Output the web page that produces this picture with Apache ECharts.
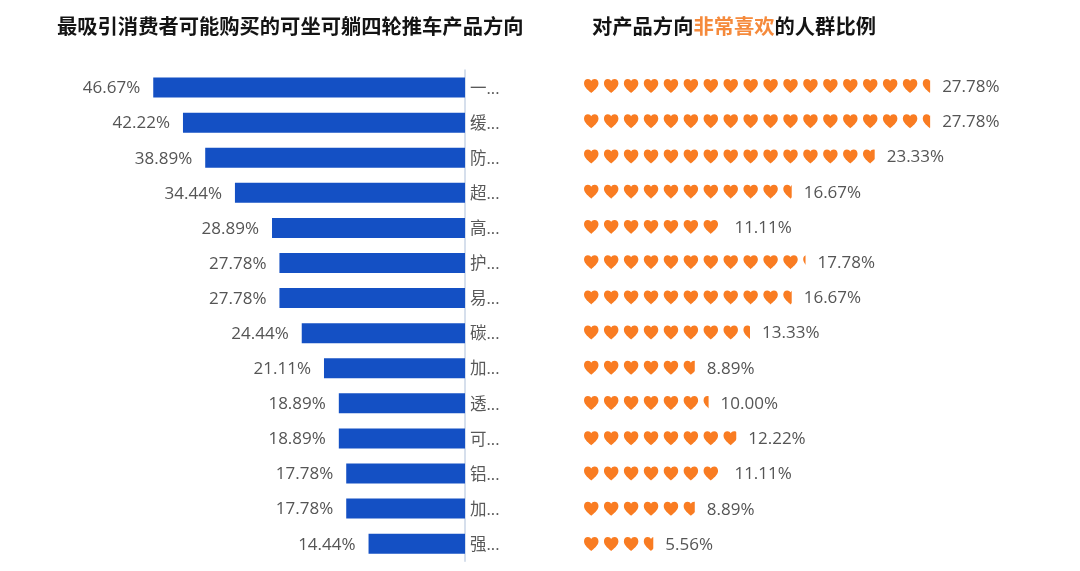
<!DOCTYPE html>
<html><head><meta charset="utf-8">
<style>html,body{margin:0;padding:0;background:#fff}#c{width:1080px;height:571px}</style>
<script src="https://cdn.jsdelivr.net/npm/echarts@6/dist/echarts.min.js"></script>
</head><body><div id="c"></div>
<script>
const categories = ['一...','缓...','防...','超...','高...','护...','易...','碳...','加...','透...','可...','铝...','加...','强...'];
const attractShare = [46.67,42.22,38.89,34.44,28.89,27.78,27.78,24.44,21.11,18.89,18.89,17.78,17.78,14.44];
const loveShare = [27.78,27.78,23.33,16.67,11.11,17.78,16.67,13.33,8.89,10.00,12.22,11.11,8.89,5.56];
const leftTitle = '最吸引消费者可能购买的可坐可躺四轮推车产品方向';
const rightTitleParts = ['对产品方向','非常喜欢','的人群比例'];
const heart = 'path://M50 96C38 84 0 60 0 30C0 12 12 2 27 2C38 2 46 7 50 15C54 7 62 2 73 2C88 2 100 12 100 30C100 60 62 84 50 96Z';
const font = '"Open Sans","Noto Sans CJK SC",sans-serif';
const titleFont = '"Noto Sans CJK SC",sans-serif';
const fmt = p => p.value.toFixed(2) + '%';
const chart = echarts.init(document.getElementById('c'));
chart.setOption({
  backgroundColor:'#fff',
  animation:false,
  title:[
    {text:leftTitle,left:52,top:11,textStyle:{fontFamily:titleFont,fontSize:20.3,fontWeight:'bold',color:'#141414'}},
    {text:`{a|${rightTitleParts[0]}}{b|${rightTitleParts[1]}}{a|${rightTitleParts[2]}}`,left:587,top:11,
     textStyle:{rich:{
       a:{fontFamily:titleFont,fontSize:20.3,fontWeight:'bold',color:'#141414'},
       b:{fontFamily:titleFont,fontSize:20.3,fontWeight:'bold',color:'#f58a3c'}}}}
  ],
  grid:[
    {left:131,top:70,width:334,height:491.2},
    {left:584,top:69.9,width:373.8,height:493.2}
  ],
  xAxis:[
    {gridIndex:0,type:'value',inverse:true,min:0,max:50,show:false},
    {gridIndex:1,type:'value',min:0,max:30,show:false}
  ],
  yAxis:[
    {gridIndex:0,type:'category',inverse:true,position:'right',data:categories,
     axisLine:{show:true,lineStyle:{color:'#c9d5e6',width:1.5}},axisTick:{show:false},
     axisLabel:{margin:5,fontFamily:font,fontSize:16.5,color:'#595959',verticalAlign:'top',lineHeight:3}},
    {gridIndex:1,type:'category',inverse:true,data:categories,show:false}
  ],
  series:[
    {type:'bar',xAxisIndex:0,yAxisIndex:0,data:attractShare,barWidth:20,
     itemStyle:{color:'#1450c4'},
     label:{show:true,position:'left',distance:12,offset:[-1,1],formatter:fmt,fontFamily:font,fontSize:17,color:'#555555'}},
    {type:'pictorialBar',xAxisIndex:1,yAxisIndex:1,data:loveShare,symbol:heart,
     symbolSize:[14.5,14],symbolRepeat:true,symbolMargin:2.715,symbolClip:true,symbolBoundingData:29.95,
     symbolPosition:'start',symbolOffset:[0,-1.5],itemStyle:{color:'#f97c22'},z:3},
    {type:'bar',xAxisIndex:1,yAxisIndex:1,data:loveShare,barWidth:20,barGap:'-100%',
     itemStyle:{color:'rgba(0,0,0,0)'},
     label:{show:true,position:'right',distance:12,offset:[0,-0.5],formatter:fmt,fontFamily:font,fontSize:17,color:'#555555'}}
  ]
});
</script></body></html>
